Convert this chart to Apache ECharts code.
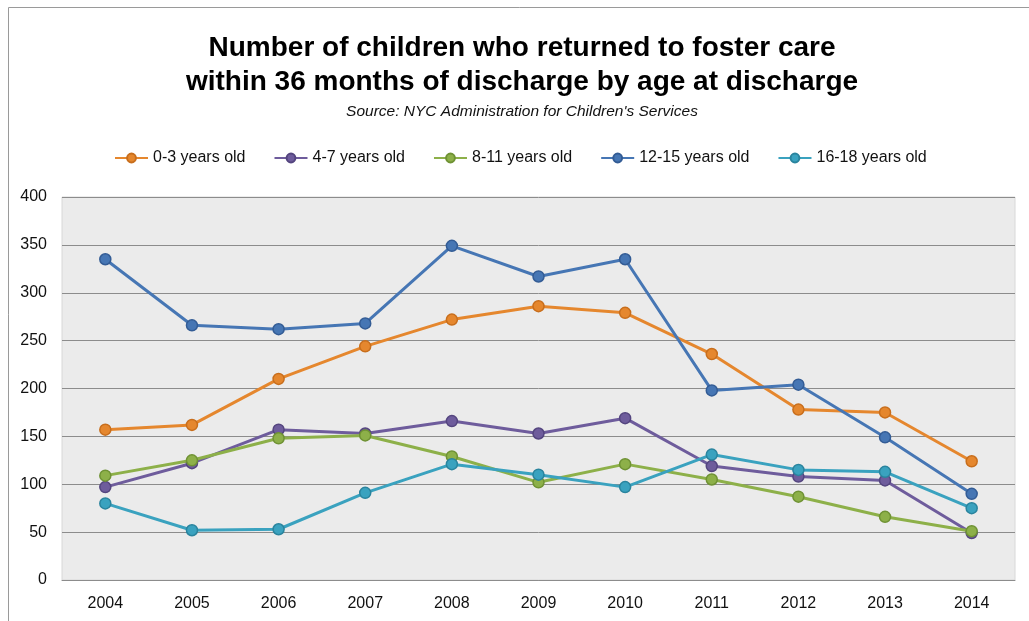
<!DOCTYPE html>
<html>
<head>
<meta charset="utf-8">
<script src="https://cdn.jsdelivr.net/npm/echarts@6/dist/echarts.min.js"></script>
<style>
html,body{margin:0;padding:0;background:#fff;}
#chart{width:1029px;height:621px;}
</style>
</head>
<body>
<div id="chart"></div>
<script>
const years = ['2004','2005','2006','2007','2008','2009','2010','2011','2012','2013','2014'];
const age0to3   = [157,162,210,244,272,286,279,236,178,175,124];
const age4to7   = [97,122,157,153,166,153,169,119,108,104,49];
const age8to11  = [109,125,148,151,129,102,121,105,87,66,51];
const age12to15 = [335,266,262,268,349,317,335,198,204,149,90];
const age16to18 = [80,52,53,91,121,110,97,131,115,113,75];
const seriesNames = ['0-3 years old','4-7 years old','8-11 years old','12-15 years old','16-18 years old'];
const titleLines = ['Number of children who returned to foster care', 'within 36 months of discharge by age at discharge'];
const subtitleText = "Source: NYC Administration for Children's Services";
const colors = ['#E5872E','#6E5C9C','#8DB049','#4676B4','#3AA2BF'];
const borders = ['#C86E1C','#54457F','#6F9234','#335C95','#2A849E'];
const dataSets = [age0to3, age4to7, age8to11, age12to15, age16to18];

const chart = echarts.init(document.getElementById('chart'));
const series = dataSets.map((d, i) => ({
  name: seriesNames[i],
  type: 'line',
  data: d,
  symbol: 'circle',
  symbolSize: 11,
  lineStyle: {color: colors[i], width: 3},
  itemStyle: {color: colors[i], borderColor: borders[i], borderWidth: 1.5},
  emphasis: {disabled: true},
  animation: false
}));

const titleFont = 'bold 28px "Liberation Sans"';
chart.setOption({
  animation: false,
  graphic: [{
    type: 'rect', left: 6, top: 5,
    shape: {width: 1060, height: 660},
    style: {fill: 'none', stroke: '#9a9a9a', lineWidth: 1},
    silent: true
  }, {
    type: 'text', x: 522, y: 48, silent: true,
    style: {text: titleLines[0], font: titleFont, fill: '#000', textAlign: 'center', textVerticalAlign: 'middle'}
  }, {
    type: 'text', x: 522, y: 82, silent: true,
    style: {text: titleLines[1], font: titleFont, fill: '#000', textAlign: 'center', textVerticalAlign: 'middle'}
  }, {
    type: 'text', x: 522, y: 112, silent: true,
    style: {text: subtitleText, font: 'italic 15.5px "Liberation Sans"', fill: '#111', textAlign: 'center', textVerticalAlign: 'middle'}
  }],
  legend: {
    top: 145, left: 109,
    itemGap: 28, itemWidth: 33, itemHeight: 11,
    textStyle: {fontFamily: 'Liberation Sans', fontSize: 16, color: '#111'},
    data: seriesNames
  },
  grid: {left: 62, right: 14, top: 197, bottom: 41, show: true, backgroundColor: '#ebebeb', borderColor: '#d8d8d8', borderWidth: 1},
  xAxis: {
    type: 'category', data: years, boundaryGap: true,
    axisLine: {show: true, lineStyle: {color: '#8c8c8c', width: 1}},
    axisTick: {show: false},
    axisLabel: {fontFamily: 'Liberation Sans', fontSize: 16, color: '#111', margin: 16}
  },
  yAxis: {
    type: 'value', min: 0, max: 400, interval: 50,
    axisLine: {show: false}, axisTick: {show: false},
    splitLine: {lineStyle: {color: '#8c8c8c', width: 1}},
    axisLabel: {fontFamily: 'Liberation Sans', fontSize: 16, color: '#111', margin: 15}
  },
  series: series
});
</script>
</body>
</html>
